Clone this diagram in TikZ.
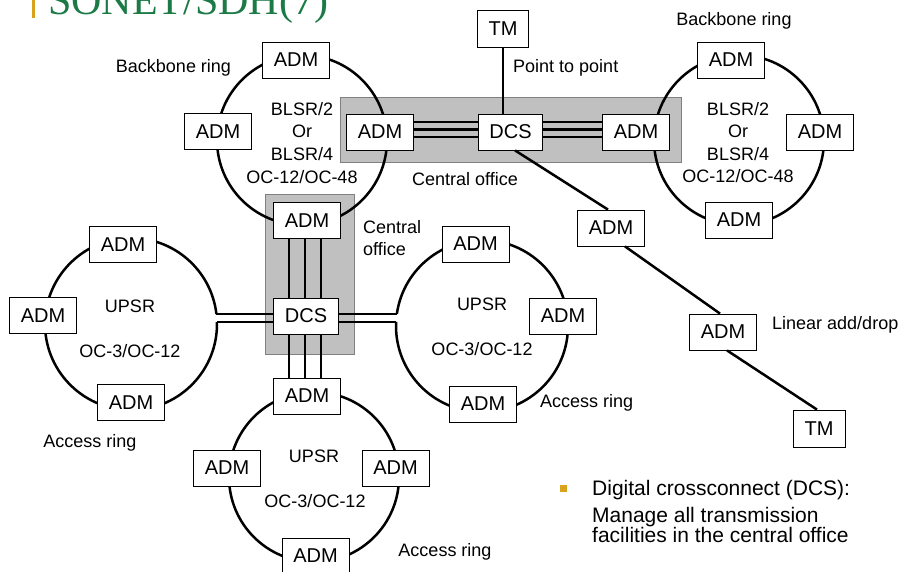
\documentclass[tikz,border=0pt]{standalone}
\usepackage{fontspec}
\setmainfont{Liberation Sans}
\newfontfamily\titlefont{Liberation Serif}
\usetikzlibrary{calc}
\definecolor{titlegreen}{HTML}{1B7A46}
\definecolor{barorange}{HTML}{D9A21B}
\definecolor{cogray}{HTML}{C0C0C0}
\definecolor{coborder}{HTML}{808080}
\begin{document}
\begin{tikzpicture}[x=1pt,y=-1pt,
 box/.style={draw=black, line width=0.8pt, fill=white, inner sep=0pt, minimum width=67pt, minimum height=36pt, font=\fontsize{20}{22}\selectfont},
 dcsbox/.style={box, minimum width=64pt},
 tmbox/.style={box, minimum width=51pt, minimum height=37pt},
 ring/.style={line width=2.5pt},
 link/.style={line width=2.5pt},
 lbl/.style={font=\fontsize{18}{20}\selectfont, inner sep=0pt, anchor=base},
 bul/.style={font=\fontsize{21}{23}\selectfont, inner sep=0pt, anchor=base west},
 office/.style={fill=cogray, draw=coborder, line width=0.8pt},
]
\useasboundingbox (0,0) rectangle (904,571);
\clip (0,0) rectangle (904,571);

% title
\node[anchor=base west, inner sep=0pt, text=titlegreen, font=\titlefont\fontsize{42}{46}\selectfont] (title) at (48,14) {SONET/SDH(7)};
\fill[barorange] (32,-5) rectangle (34.5,18);

% central office boxes
\draw[office] (340,97) rectangle (681,162);
\draw[office] (265,194) rectangle (354,354);

% rings
\draw[ring] (302,140) circle[radius=85];
\draw[ring] (739,140) circle[radius=85];
\draw[ring] (314,477) circle[radius=85];
\draw[ring] ([shift={(-1.3:86)}]131,324) arc[start angle=-1.3, end angle=353.3, radius=86];
\coordinate (lgA) at ([shift={(-6.7:86)}]131,324);
\coordinate (lgB) at ([shift={(-1.3:86)}]131,324);
\draw[ring] ([shift={(188:86)}]482,326) arc[start angle=188, end angle=542.7, radius=86];
\coordinate (mgA) at ([shift={(188:86)}]482,326);
\coordinate (mgB) at ([shift={(182.7:86)}]482,326);

% top-left backbone ring
\node[box] (blT) at (296,60) {ADM};
\node[box] (blL) at (218,131.5) {ADM};
\node[box] (aL) at (380,132) {ADM};
\node[box] (aVt) at (307,220.5) {ADM};
% central office horizontal
\node[dcsbox] (dcsH) at (510.5,132) {DCS};
\node[box] (aR) at (636,132) {ADM};
\node[tmbox] (tm) at (503,28.5) {TM};
% right backbone ring
\node[box] (brT) at (731,60) {ADM};
\node[box] (brR) at (820,132) {ADM};
\node[box] (brB) at (739,220) {ADM};
% linear add/drop
\node[box] (d1) at (611,228) {ADM};
\node[box] (d2) at (723,332) {ADM};
\node[tmbox, minimum width=52pt] (tm2) at (819,428.5) {TM};
% vertical central office
\node[dcsbox, minimum width=65pt] (dcsV) at (306,316) {DCS};
\node[box] (aVb) at (307,396) {ADM};
% left UPSR
\node[box] (ulT) at (123,244.5) {ADM};
\node[box] (ulL) at (43,315.5) {ADM};
\node[box] (ulB) at (131,402.5) {ADM};
% middle UPSR
\node[box] (umT) at (475.5,244) {ADM};
\node[box] (umR) at (563,316) {ADM};
\node[box] (umB) at (483,404) {ADM};
% bottom UPSR
\node[box] (ubL) at (227,468) {ADM};
\node[box] (ubR) at (395.5,468) {ADM};
\node[box] (ubB) at (315.5,556) {ADM};

% connectors
\foreach \dy in {-10,-2.5,5} {
  \draw[link] ($(aL.east)+(0,\dy)$) -- ($(dcsH.west)+(0,\dy)$);
  \draw[link] ($(dcsH.east)+(0,\dy)$) -- ($(aR.west)+(0,\dy)$);
}
\foreach \dx in {-17,-1,15} {
  \path ($(dcsV.north)+(\dx,0)$) coordinate (vt) ($(dcsV.south)+(\dx,0)$) coordinate (vb);
  \draw[link] (vt) -- (vt |- aVt.south);
  \draw[link] (vb) -- (vb |- aVb.north);
}
\draw[link] (lgA) -- (lgA -| dcsV.west);
\draw[link] (lgB) -- (lgB -| dcsV.west);
\draw[link] (mgA) -- (mgA -| dcsV.east);
\draw[link] (mgB) -- (mgB -| dcsV.east);
\draw[link] (tm.south) -- (tm.south |- dcsH.north);
\draw[link] ($(dcsH.south)+(4.5,0)$) -- ($(d1.north)+(-3,0)$);
\draw[link] ($(d1.south)+(14,0)$) -- ($(d2.north)+(-3,0)$);
\draw[link] ($(d2.south)+(4,0)$) -- ($(tm2.north)+(-2,0)$);

% labels
\node[lbl] (lbBL) at (173.5,72) {Backbone ring};
\node[lbl] (lbBR) at (734,25) {Backbone ring};
\node[lbl, anchor=base west] (lbPP) at (513,72) {Point to point};
\node[lbl] (l1a) at (302,115) {BLSR/2};
\node[lbl] (l1b) at (302,137) {Or};
\node[lbl] (l1c) at (302,160) {BLSR/4};
\node[lbl] (l1d) at (302,183) {OC-12/OC-48};
\node[lbl] (r1a) at (738,115) {BLSR/2};
\node[lbl] (r1b) at (738,137) {Or};
\node[lbl] (r1c) at (738,160) {BLSR/4};
\node[lbl] (r1d) at (738,182) {OC-12/OC-48};
\node[lbl] (lbCO) at (465,185) {Central office};
\node[lbl, anchor=base west] (lbC1) at (363,233) {Central};
\node[lbl, anchor=base west] (lbC2) at (363,255) {office};
\node[lbl] (ul1) at (130,312) {UPSR};
\node[lbl] (ul2) at (130,357) {OC-3/OC-12};
\node[lbl] (ul3) at (90,447) {Access ring};
\node[lbl] (um1) at (482,310) {UPSR};
\node[lbl] (um2) at (482,355) {OC-3/OC-12};
\node[lbl, anchor=base west] (um3) at (540,407) {Access ring};
\node[lbl] (ub1) at (314,462) {UPSR};
\node[lbl] (ub2) at (315,507) {OC-3/OC-12};
\node[lbl] (ub3) at (445,556) {Access ring};
\node[lbl, anchor=base west] (lbLin) at (772,329) {Linear add/drop};

% bullet
\fill[barorange] (560,485) rectangle (567,492);
\node[bul] (b1) at (592,495) {Digital crossconnect (DCS):};
\node[bul] (b2) at (592,522) {Manage all transmission};
\node[bul] (b3) at (592,542) {facilities in the central office};
\end{tikzpicture}
\end{document}
